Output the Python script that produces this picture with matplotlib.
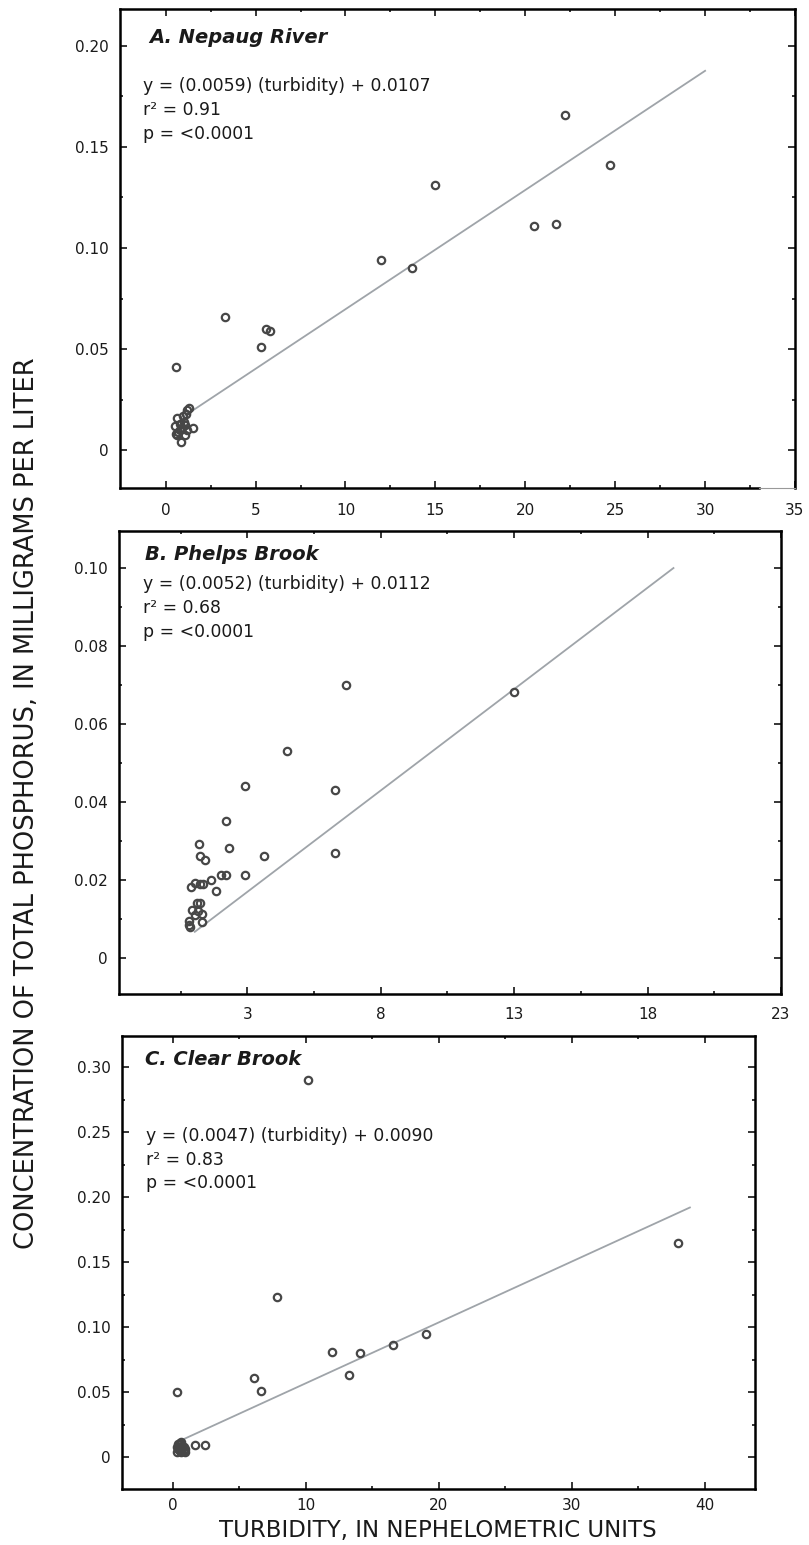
import matplotlib
matplotlib.use("Agg")
import matplotlib.pyplot as plt
import numpy as np

plt.rcParams["font.family"] = ["DejaVu Sans"]

# A. Nepaug River
a_x = [22.2, 24.7, 15.0, 20.5, 21.7, 12.0, 13.7, 3.3, 5.6, 5.8, 5.3, 0.58,
       1.30, 1.20, 0.61, 0.96, 0.52, 1.50, 1.20, 0.55, 0.65, 0.85, 1.00,
       0.82, 1.06, 0.77, 1.13, 0.90, 0.70, 1.10]
a_y = [0.166, 0.141, 0.131, 0.111, 0.112, 0.094, 0.090, 0.066, 0.060, 0.059,
       0.051, 0.041, 0.021, 0.020, 0.016, 0.017, 0.012, 0.011, 0.010, 0.008,
       0.0074, 0.0038, 0.014, 0.013, 0.0074, 0.0099, 0.018, 0.0107, 0.009,
       0.0125]
a_line_x = [1.0, 30.0]
a_line_y = [0.0166, 0.1877]

# B. Phelps Brook
b_x = [6.69, 12.98, 4.49, 2.90, 6.28, 2.19, 2.30, 3.61, 6.28, 1.20, 1.21,
       1.43, 0.90, 1.03, 1.21, 1.34, 1.63, 2.00, 2.21, 2.91, 1.81, 1.11,
       1.21, 0.94, 1.31, 1.15, 1.03, 0.81, 0.84, 1.31, 0.80]
b_y = [0.0701, 0.0681, 0.0531, 0.0441, 0.0431, 0.0351, 0.0281, 0.0261,
       0.0270, 0.0291, 0.0261, 0.0251, 0.0181, 0.0193, 0.0190, 0.0190,
       0.0201, 0.0212, 0.0212, 0.0212, 0.0171, 0.0141, 0.0141, 0.0122,
       0.0113, 0.0120, 0.0111, 0.0094, 0.0080, 0.0092, 0.0085]
b_line_x = [1.03, 18.97]
b_line_y = [0.0067, 0.1000]

# C. Clear Brook
c_x = [10.15, 7.86, 38.0, 19.05, 16.56, 11.95, 14.04, 13.26, 6.09, 6.64,
       0.33, 1.63, 2.44, 0.3, 0.4, 0.5, 0.6, 0.5, 0.7, 0.8, 0.9, 0.3, 0.6,
       0.7, 0.4, 0.8, 0.5, 0.9, 0.6]
c_y = [0.290, 0.123, 0.165, 0.095, 0.086, 0.081, 0.080, 0.063, 0.061, 0.051,
       0.050, 0.0095, 0.0095, 0.004, 0.006, 0.008, 0.010, 0.011, 0.007,
       0.005, 0.006, 0.008, 0.004, 0.009, 0.010, 0.008, 0.005, 0.004, 0.012]
c_line_x = [0.79, 38.9]
c_line_y = [0.0139, 0.1921]

titles = ["A. Nepaug River", "B. Phelps Brook", "C. Clear Brook"]
equations = [
    "y = (0.0059) (turbidity) + 0.0107\nr\u00b2 = 0.91\np = <0.0001",
    "y = (0.0052) (turbidity) + 0.0112\nr\u00b2 = 0.68\np = <0.0001",
    "y = (0.0047) (turbidity) + 0.0090\nr\u00b2 = 0.83\np = <0.0001",
]

W, H = 809, 1545
fig = plt.figure(figsize=(W / 100, H / 100), dpi=100)


def px_axes(left, right, top, bottom):
    return fig.add_axes([left / W, 1 - bottom / H, (right - left) / W, (bottom - top) / H])


ax_a = px_axes(120, 795, 9, 488)
ax_b = px_axes(119, 781, 531, 994)
ax_c = px_axes(122, 755, 1036, 1489)

point_color = "#474747"
line_color = "#9fa4a9"


def style(ax, xpad):
    for s in ax.spines.values():
        s.set_linewidth(1.8)
        s.set_color("black")
    ax.tick_params(which="both", direction="in", top=True, right=True,
                   width=1.1, labelsize=11, color="black", labelcolor="#1a1a1a")
    ax.tick_params(which="major", length=5)
    ax.tick_params(which="minor", length=2.5)
    ax.tick_params(axis="x", pad=xpad)
    ax.tick_params(axis="y", pad=8)


def draw(ax, x, y, lx, ly, title, eq, tx, ty, ex, ey, xpad):
    ax.plot(lx, ly, color=line_color, lw=1.3, zorder=2)
    ax.plot(x, y, "o", mfc="none", mec=point_color, mew=1.6, ms=5.3, zorder=3)
    ax.text(tx, ty, title, transform=ax.transAxes, fontsize=14,
            fontweight="bold", fontstyle="italic", va="center", ha="left",
            color="#1a1a1a")
    ax.text(ex, ey, eq, transform=ax.transAxes, fontsize=12.4, va="top",
            ha="left", linespacing=1.4, color="#1a1a1a")
    style(ax, xpad)


draw(ax_a, a_x, a_y, a_line_x, a_line_y, titles[0], equations[0],
     0.043, 0.9415, 0.034, 0.857, 10.5)
ax_a.set_xlim(-2.54, 35)
ax_a.set_ylim(-0.0188, 0.2183)
ax_a.set_xticks(np.arange(0, 36, 5))
ax_a.set_xticks(np.arange(2.5, 35, 5), minor=True)
ax_a.set_yticks([0, 0.05, 0.10, 0.15, 0.20])
ax_a.set_yticklabels(["0", "0.05", "0.10", "0.15", "0.20"])
ax_a.set_yticks(np.arange(0.025, 0.22, 0.05), minor=True)
ax_a.spines["bottom"].set_bounds(-2.54, 33.0)
ax_a.plot([33.0, 35], [-0.0188, -0.0188], color="#999999", lw=0.8,
          clip_on=False, zorder=5)

draw(ax_b, b_x, b_y, b_line_x, b_line_y, titles[1], equations[1],
     0.040, 0.949, 0.037, 0.904, 9.5)
ax_b.set_xlim(-1.81, 23)
ax_b.set_ylim(-0.00925, 0.1095)
ax_b.set_xticks([3, 8, 13, 18, 23])
ax_b.set_xticks([0.5, 5.5, 10.5, 15.5, 20.5], minor=True)
ax_b.set_yticks([0, 0.02, 0.04, 0.06, 0.08, 0.10])
ax_b.set_yticklabels(["0", "0.02", "0.04", "0.06", "0.08", "0.10"])
ax_b.set_yticks([0.01, 0.03, 0.05, 0.07, 0.09], minor=True)

draw(ax_c, c_x, c_y, c_line_x, c_line_y, titles[2], equations[2],
     0.037, 0.948, 0.0375, 0.799, 6.5)
ax_c.set_xlim(-3.84, 43.8)
ax_c.set_ylim(-0.0244, 0.324)
ax_c.set_xticks([0, 10, 20, 30, 40])
ax_c.set_xticks([5, 15, 25, 35], minor=True)
ax_c.set_yticks([0, 0.05, 0.10, 0.15, 0.20, 0.25, 0.30])
ax_c.set_yticklabels(["0", "0.05", "0.10", "0.15", "0.20", "0.25", "0.30"])
ax_c.set_yticks(np.arange(0.025, 0.32, 0.05), minor=True)

fig.text(27 / W, 1 - 803 / H,
         "CONCENTRATION OF TOTAL PHOSPHORUS, IN MILLIGRAMS PER LITER",
         rotation=90, ha="center", va="center", fontsize=18.5, color="#1a1a1a")
fig.text(438 / W, 1 - 1530 / H, "TURBIDITY, IN NEPHELOMETRIC UNITS",
         ha="center", va="center", fontsize=16.5, color="#1a1a1a")

fig.savefig("out.png", dpi=100)
